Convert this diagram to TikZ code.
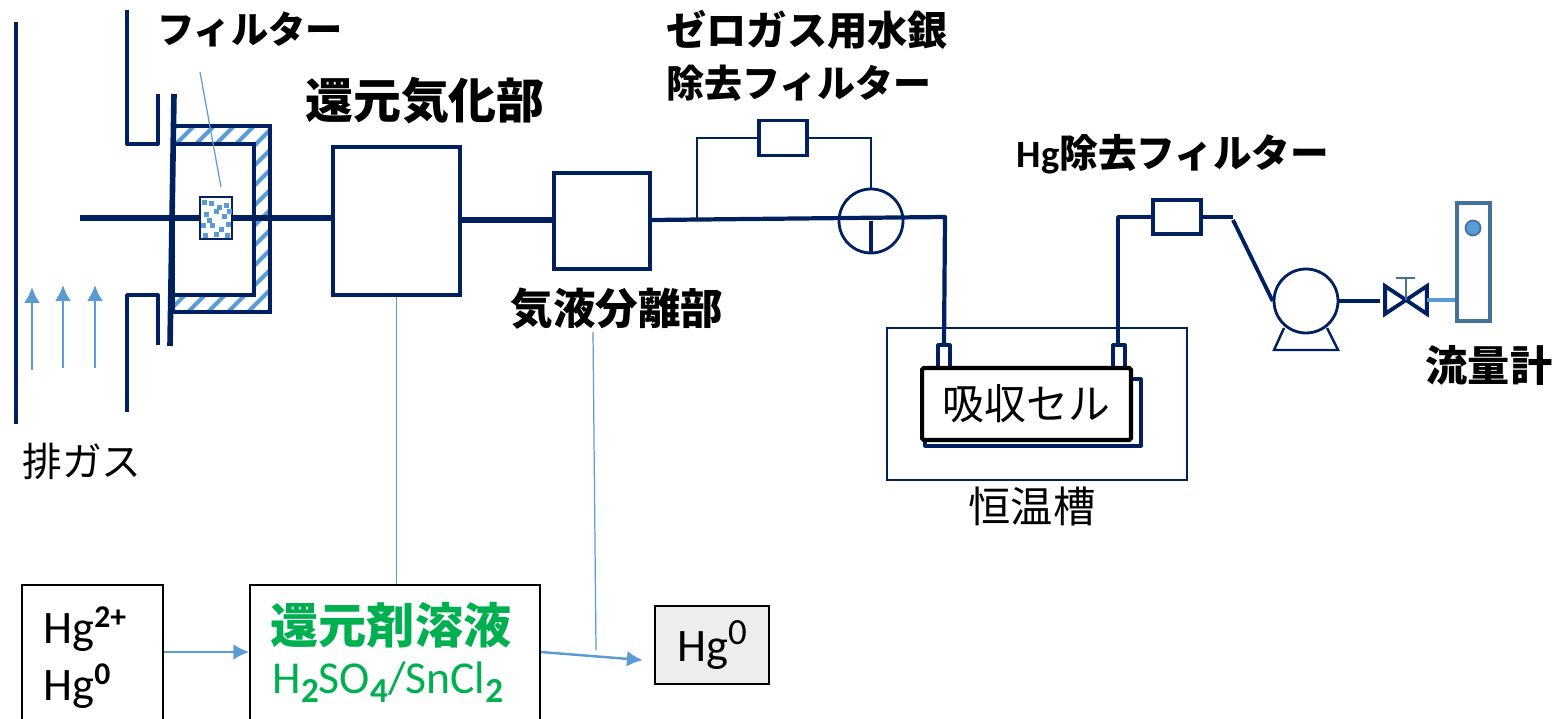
\documentclass[tikz,border=0pt]{standalone}
\usepackage{fontspec}
\setmainfont{Noto Sans CJK JP}
\newfontfamily\latin{Carlito}
\usetikzlibrary{arrows.meta, calc, positioning}
\definecolor{navy}{HTML}{002060}
\definecolor{skyblue}{HTML}{5B9BD5}
\definecolor{steel}{HTML}{41719C}
\definecolor{solgreen}{HTML}{00B050}
\newcommand{\supr}[1]{\raisebox{9.5pt}{\fontsize{18}{18}\selectfont #1}}
\newcommand{\subr}[1]{\raisebox{-5pt}{\fontsize{20}{20}\selectfont\bfseries #1}}
\tikzstyle{pipe} = [draw, navy, line width=3.3pt]
\tikzstyle{wall} = [draw, navy, line width=2.2pt]
\tikzstyle{thinpipe} = [draw, navy, line width=0.8pt]
\tikzstyle{leader} = [draw, skyblue, line width=0.7pt]
\tikzstyle{flow} = [draw, skyblue, line width=1.4pt, -{Latex[length=9pt,width=9pt]}]
\tikzstyle{block} = [rectangle, draw, navy, line width=2pt, fill=white, inner sep=0pt]
\tikzstyle{chem} = [rectangle, draw, black, line width=1pt, inner sep=0pt]
\tikzstyle{lab} = [inner sep=0pt, text=black, font=\fontsize{24.4}{28}\selectfont]
\tikzstyle{blab} = [inner sep=0pt, text=black, align=left, font=\fontsize{22}{35}\selectfont\bfseries]

\begin{document}
\begin{tikzpicture}[x=0.02cm, y=-0.02cm]
\useasboundingbox (0,0) rectangle (1558,719);
% duct
\coordinate (ducttop) at (16,22);
\coordinate (ductbot) at (16,424);
\path [wall] (ducttop) -- (ductbot);
\path [wall, line join=round] (127,10) -- (127,144) -- (158,144) -- (158,94);
\path [wall, line join=round] (127,412) -- (127,295) -- (158,295) -- (158,345);
% heated jacket
\begin{scope}[even odd rule]
\clip (173,126) rectangle (270,312) (173,144) rectangle (254,295);
\foreach \i in {0,...,15} {
  \draw [skyblue, line width=2.4pt] (100,200+\i*20) -- (400,-100+\i*20);
}
\end{scope}
\path [wall] (173,126) rectangle (270,312);
\path [wall] (173,144) rectangle (254,295);
\path [draw, navy, line width=3.2pt] (174,94) -- (170,346);
% main line
\coordinate (inlet) at (80,218);
\node [block, line width=1.2pt, minimum width=0.64cm, minimum height=0.84cm] (filt) at (216,218) {};
\foreach \dx/\dy in {204/203,211/204,219/208,226/206,206/215,216/212,224/217,203/226,212/226,221/230,228/225,205/236,216/235,227/236,209/221,229/212} {
  \fill [skyblue] (\dx-2.5,\dy-2.5) rectangle (\dx+2.5,\dy+2.5);
}
\node [block, minimum width=2.54cm, minimum height=2.96cm] (redu) at (396.5,221) {};
\node [block, minimum width=1.92cm, minimum height=1.92cm] (sep) at (602,221) {};
\node [block, minimum width=0.96cm, minimum height=0.70cm] (zero) at (783,138) {};
\node [circle, draw, navy, line width=1.6pt, minimum size=1.28cm, inner sep=0pt] (three) at (871,221) {};
\node [rectangle, draw, navy, line width=1.2pt, minimum width=6cm, minimum height=3.04cm] (tank) at (1037,404) {};
\coordinate (cellin) at (944,345);
\coordinate (cellout) at (1118,345);
\coordinate (tee) at (697,218);
\coordinate (elbow) at (945,217);
\path [pipe] (inlet) -- (filt.west);
\path [pipe] (filt.east) -- (redu.west |- filt.east);
\path [pipe] (redu.east |- 0,220) -- (sep.west |- 0,220);
\path [draw, navy, line width=2.4pt, line join=round] (sep.east |- 0,220) -- (elbow) -- (cellin);
\path [thinpipe] (tee) -- (tee |- zero.west) -- (zero.west);
\path [thinpipe] (zero.east) -- (zero.east -| three.north) -- (three.north);
\path [draw, navy, line width=1.8pt] (three.center) -- (three.south);
% absorption cell
\path [wall, line width=1.8pt, line join=round] (1131,379) -- (1141,379) -- (1141,446) -- (925,446) -- (925,440);
\path [draw, navy, line width=1.8pt, fill=white, line join=round] (938,368) -- (938,345) -- (950,345) -- (950,368);
\path [draw, navy, line width=1.8pt, fill=white, line join=round] (1113,368) -- (1113,345) -- (1125,345) -- (1125,368);
\node [rectangle, draw, black, line width=2.3pt, rounded corners=1pt, fill=white, minimum width=4.18cm, minimum height=1.44cm, inner sep=0pt, lab, font=\fontsize{23.8}{28}\selectfont] (cell) at (1026.5,404) {吸収セル};
% outlet side
\node [block, minimum width=0.96cm, minimum height=0.68cm] (hgf) at (1177,217) {};
\node [circle, draw, navy, line width=1.6pt, minimum size=1.28cm, inner sep=0pt] (pump) at (1306,301) {};
\coordinate (bend) at (1233,218);
\coordinate (bendb) at (1233,220);
\path [draw, navy, line width=2.2pt, line join=round] (cellout) -- (cellout |- hgf.west) -- (hgf.west);
\path [draw, navy, line width=2.2pt] (hgf.east) -- (bend |- hgf.east);
\path [draw, navy, line width=2.2pt] (bendb) -- (pump.west);
\path [draw, navy, line width=1.4pt, line join=miter] (1284,328) -- (1274,350) -- (1338,350) -- (1327,328);
\node [minimum width=0.82cm, minimum height=0.54cm, inner sep=0pt] (valve) at (1406,300) {};
\node [rectangle, draw, steel, line width=2pt, minimum width=0.66cm, minimum height=2.36cm, inner sep=0pt] (meter) at (1473.5,262) {};
\node [circle, draw, steel, line width=1pt, fill=skyblue, minimum size=0.3cm, inner sep=0pt] (ball) at (1473,228) {};
\path [draw, navy, line width=2.2pt, shorten >=3pt] (pump.east) -- (pump.east -| valve.west);
\path [draw, navy, line width=2.2pt, line join=miter] (valve.north west) -- (valve.south east) -- (valve.north east) -- (valve.south west) -- cycle;
\path [draw, skyblue, line width=2.2pt] (valve.east) -- (meter.west |- valve.east);
\coordinate (stem) at (1406,278);
\path [draw, steel, line width=0.8pt] (valve.center) -- (stem);
\path [draw, steel, line width=0.8pt] (1396,278) -- (1415,278);
% gas arrows
\foreach \ax/\ay in {32/370,63/368,95/368} {
  \path [flow] (\ax,\ay) -- (\ax,\ay-83);
}
% bottom row
\node [chem, minimum width=2.82cm, minimum height=3cm] (hgin) at (92.5,660) {};
\node [chem, minimum width=5.8cm, minimum height=3cm] (sol) at (395,660) {};
\node [chem, fill=black!7, minimum width=2.28cm, minimum height=1.56cm] (hgout) at (712,645) {};
\path [flow] (hgin.east |- 0,652) -- (sol.west |- 0,652);
\path [flow, shorten >=6.5pt] (sol.east |- 0,652) -- (hgout.west |- 0,661);
\path [leader] (redu.south) -- (sol.north -| redu.south);
\coordinate (sepleader) at (593,332);
\coordinate (sepleaderb) at (596,650);
\path [leader] (sepleader) -- (sepleaderb);
\coordinate (filtleader) at (200,72);
\coordinate (filtleaderb) at (221,187);
\path [leader] (filtleader) -- (filtleaderb);
% labels
\node [blab, font=\fontsize{21.2}{25}\selectfont\bfseries] (tfilt) at (250,29) {フィルター};
\node [blab, font=\fontsize{27.3}{32}\selectfont\bfseries] (tredu) at (425,101) {還元気化部};
\node [blab, font=\fontsize{22.9}{26}\selectfont\bfseries, anchor=west] (tzero) at (666,30) {ゼロガス用水銀};
\node [blab, font=\fontsize{21.6}{26}\selectfont\bfseries, anchor=west] (tzerob) at (666,83) {除去フィルター};
\node [blab, font=\fontsize{24.2}{28}\selectfont\bfseries] (tsep) at (617,309) {気液分離部};
\node [blab, font=\fontsize{22}{26}\selectfont\bfseries] (thgf) at (1173,154) {{\latin Hg}除去フィルター};
\node [blab, font=\fontsize{24}{28}\selectfont\bfseries] (tmeter) at (1489,365) {流量計};
\node [lab, font=\fontsize{24.1}{28}\selectfont] (tbath) at (1032,506) {恒温槽};
\node [lab, font=\fontsize{22.6}{26}\selectfont] (tgas) at (82,461) {排ガス};
\node [inner sep=0pt, font=\fontsize{26.5}{25}\selectfont\latin, anchor=west] (thg) at (43,629) {Hg\supr{\bfseries 2+}};
\node [inner sep=0pt, font=\fontsize{26.5}{25}\selectfont\latin, anchor=west] (thgz) at (43,686) {Hg\supr{\bfseries 0}};
\node [inner sep=0pt, text=solgreen, font=\fontsize{27.4}{30}\selectfont\bfseries] (tsol) at (391,625) {還元剤溶液};
\node [inner sep=0pt, text=solgreen, font=\fontsize{26}{28}\selectfont\latin] (tform) at (388,682) {H\subr{2}SO\subr{4}/SnCl\subr{2}};
\node [inner sep=0pt, font=\fontsize{26.5}{25}\selectfont\latin] (thgo) at (hgout.center) {Hg\supr{\fontsize{21}{21}\selectfont 0}};
\end{tikzpicture}
\end{document}
